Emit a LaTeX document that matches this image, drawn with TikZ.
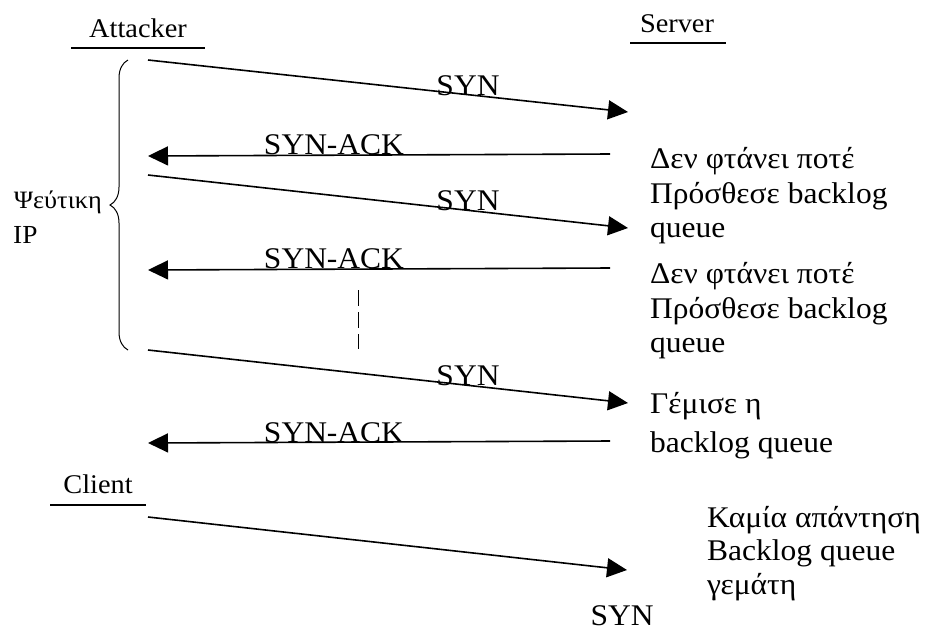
\documentclass[tikz,border=0pt]{standalone}
\usepackage{fontspec}
\setmainfont[FakeStretch=1.05]{Liberation Serif}
\usetikzlibrary{arrows.meta,decorations.pathreplacing}
\begin{document}
\begin{tikzpicture}[x=1pt,y=-1pt,
  msg/.style={line width=1.6pt,-{Triangle[length=20pt,width=19pt]}},
  lbl/.style={font=\fontsize{30}{34}\selectfont,anchor=base,inner sep=0pt},
  note/.style={font=\fontsize{30}{35}\selectfont,anchor=base west,inner sep=0pt},
  actor/.style={font=\fontsize{27}{30}\selectfont,anchor=base,inner sep=0pt},
  under/.style={line width=1.2pt}]
\useasboundingbox (0,0) rectangle (925,630);

% actors with underlines
\node[actor] (att) at (138,37) {Attacker};
\draw[under] (71,48) -- (205,48);
\node[actor] (srv) at (677,32) {Server};
\draw[under] (630,43) -- (726,43);
\node[actor] (cli) at (98,493) {Client};
\draw[under] (50,505) -- (146,505);

% message end points
\coordinate (a1) at (148,60);  \coordinate (s1) at (628,112);
\coordinate (s2) at (610,154); \coordinate (a2) at (148,156);
\coordinate (a3) at (148,175); \coordinate (s3) at (628,228);
\coordinate (s4) at (610,268); \coordinate (a4) at (148,270);
\coordinate (a5) at (148,350); \coordinate (s5) at (628,403);
\coordinate (s6) at (610,441); \coordinate (a6) at (148,443);
\coordinate (c1) at (148,517); \coordinate (s7) at (627,570);

\draw[msg] (a1) -- (s1);
\draw[msg] (s2) -- (a2);
\draw[msg] (a3) -- (s3);
\draw[msg] (s4) -- (a4);
\draw[msg] (a5) -- (s5);
\draw[msg] (s6) -- (a6);
\draw[msg] (c1) -- (s7);

% message labels
\node[lbl] (l1) at (468,95) {SYN};
\node[lbl] (l2) at (334,154) {SYN-ACK};
\node[lbl] (l3) at (468,210) {SYN};
\node[lbl] (l4) at (334,268) {SYN-ACK};
\node[lbl] (l5) at (468,385) {SYN};
\node[lbl] (l6) at (334,442) {SYN-ACK};
\node[lbl] (l7) at (622,625) {SYN};

% gap in the sequence
\draw[line width=1pt,dash pattern=on 16pt off 6pt] (358,290) -- (358,349);

% spoofed source brace
\draw[line width=1pt,decorate,decoration={brace,amplitude=18pt}] (128,350) -- (128,60);
\node[font=\fontsize{25}{30}\selectfont,anchor=base east,inner sep=0pt] (fake) at (102,208) {Ψεύτικη};
\node[font=\fontsize{26}{30}\selectfont,anchor=base west,inner sep=0pt] (ip) at (13,243) {IP};

% server side notes, one node per line
\node[note] (n1a) at (650,168) {Δεν φτάνει ποτέ};
\node[note] (n1b) at (650,203) {Πρόσθεσε backlog};
\node[note] (n1c) at (650,237) {queue};
\node[note] (n2a) at (650,283) {Δεν φτάνει ποτέ};
\node[note] (n2b) at (650,318) {Πρόσθεσε backlog};
\node[note] (n2c) at (650,352) {queue};
\node[note] (n3a) at (650,413) {Γέμισε η};
\node[note] (n3b) at (650,452) {backlog queue};
\node[note] (n4a) at (707,527) {Καμία απάντηση};
\node[note] (n4b) at (707,560) {Backlog queue};
\node[note] (n4c) at (707,594) {γεμάτη};
\end{tikzpicture}
\end{document}
